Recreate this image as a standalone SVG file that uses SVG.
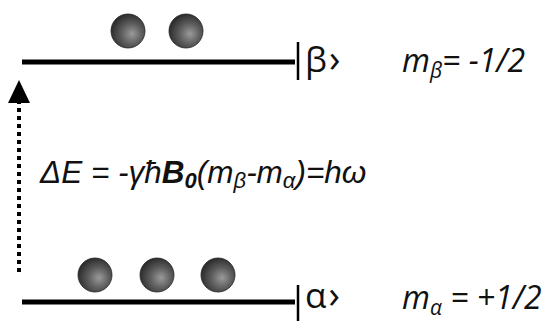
<svg xmlns="http://www.w3.org/2000/svg" width="554" height="321" viewBox="0 0 554 321">
<style>
.level{stroke:#000;stroke-width:5;fill:none}
.bar{stroke:#000;stroke-width:2.5;fill:none}
.ket{font-family:"Open Sans","Liberation Sans",sans-serif;font-size:35px;fill:#111}
.ang{font-size:38px}
.mval{font-family:"Open Sans","Liberation Sans",sans-serif;font-style:italic;font-size:32px;fill:#111}
.sub{font-size:21px}
.eq{font-family:"Liberation Sans",Arial,sans-serif;font-style:italic;font-size:31.5px;fill:#111}
.eqsub{font-size:22px}
.ball{fill:url(#sphere);stroke:#222;stroke-width:0.8}
</style>
<defs>
<radialGradient id="sphere" cx="0.6" cy="0.6" r="0.6" fx="0.62" fy="0.58">
<stop offset="0" stop-color="#9a9a9a"/>
<stop offset="0.5" stop-color="#5e5e5e"/>
<stop offset="1" stop-color="#2e2e2e"/>
</radialGradient>
</defs>
<g id="level-beta">
<line class="level" x1="22" y1="62" x2="295" y2="62"/>
<line class="bar" x1="298" y1="42" x2="298" y2="80"/>
<text class="ket" x="305" y="72">β<tspan class="ang" dx="2">›</tspan></text>
<text class="mval" x="402" y="72">m<tspan class="sub" dy="6">β</tspan><tspan dy="-6">= -1/2</tspan></text>
<circle class="ball" cx="128" cy="31" r="17"/>
<circle class="ball" cx="186" cy="31" r="17"/>
</g>
<g id="level-alpha">
<line class="level" x1="22" y1="302" x2="295" y2="302"/>
<line class="bar" x1="298" y1="285" x2="298" y2="321"/>
<text class="ket" x="305" y="308">α<tspan class="ang" dx="2">›</tspan></text>
<text class="mval" x="402" y="309">m<tspan class="sub" dy="6">α</tspan><tspan dy="-6"> = +1/2</tspan></text>
<circle class="ball" cx="95" cy="275" r="17"/>
<circle class="ball" cx="157" cy="275" r="17"/>
<circle class="ball" cx="218" cy="275" r="17"/>
</g>
<g id="connectors">
<line x1="19" y1="272" x2="19" y2="102" stroke="#000" stroke-width="4" stroke-dasharray="4 4"/>
<polygon points="19,80 8,103 30,103" fill="#000"/>
</g>
<g id="equation">
<text class="eq" x="40" y="183">ΔE = -γħ<tspan font-weight="bold">B</tspan><tspan class="eqsub" font-weight="bold" dy="5">0</tspan><tspan dy="-5">(m</tspan><tspan class="eqsub" dy="5">β</tspan><tspan dy="-5">-m</tspan><tspan class="eqsub" dy="5">α</tspan><tspan dy="-5">)=hω</tspan></text>
</g>
</svg>
